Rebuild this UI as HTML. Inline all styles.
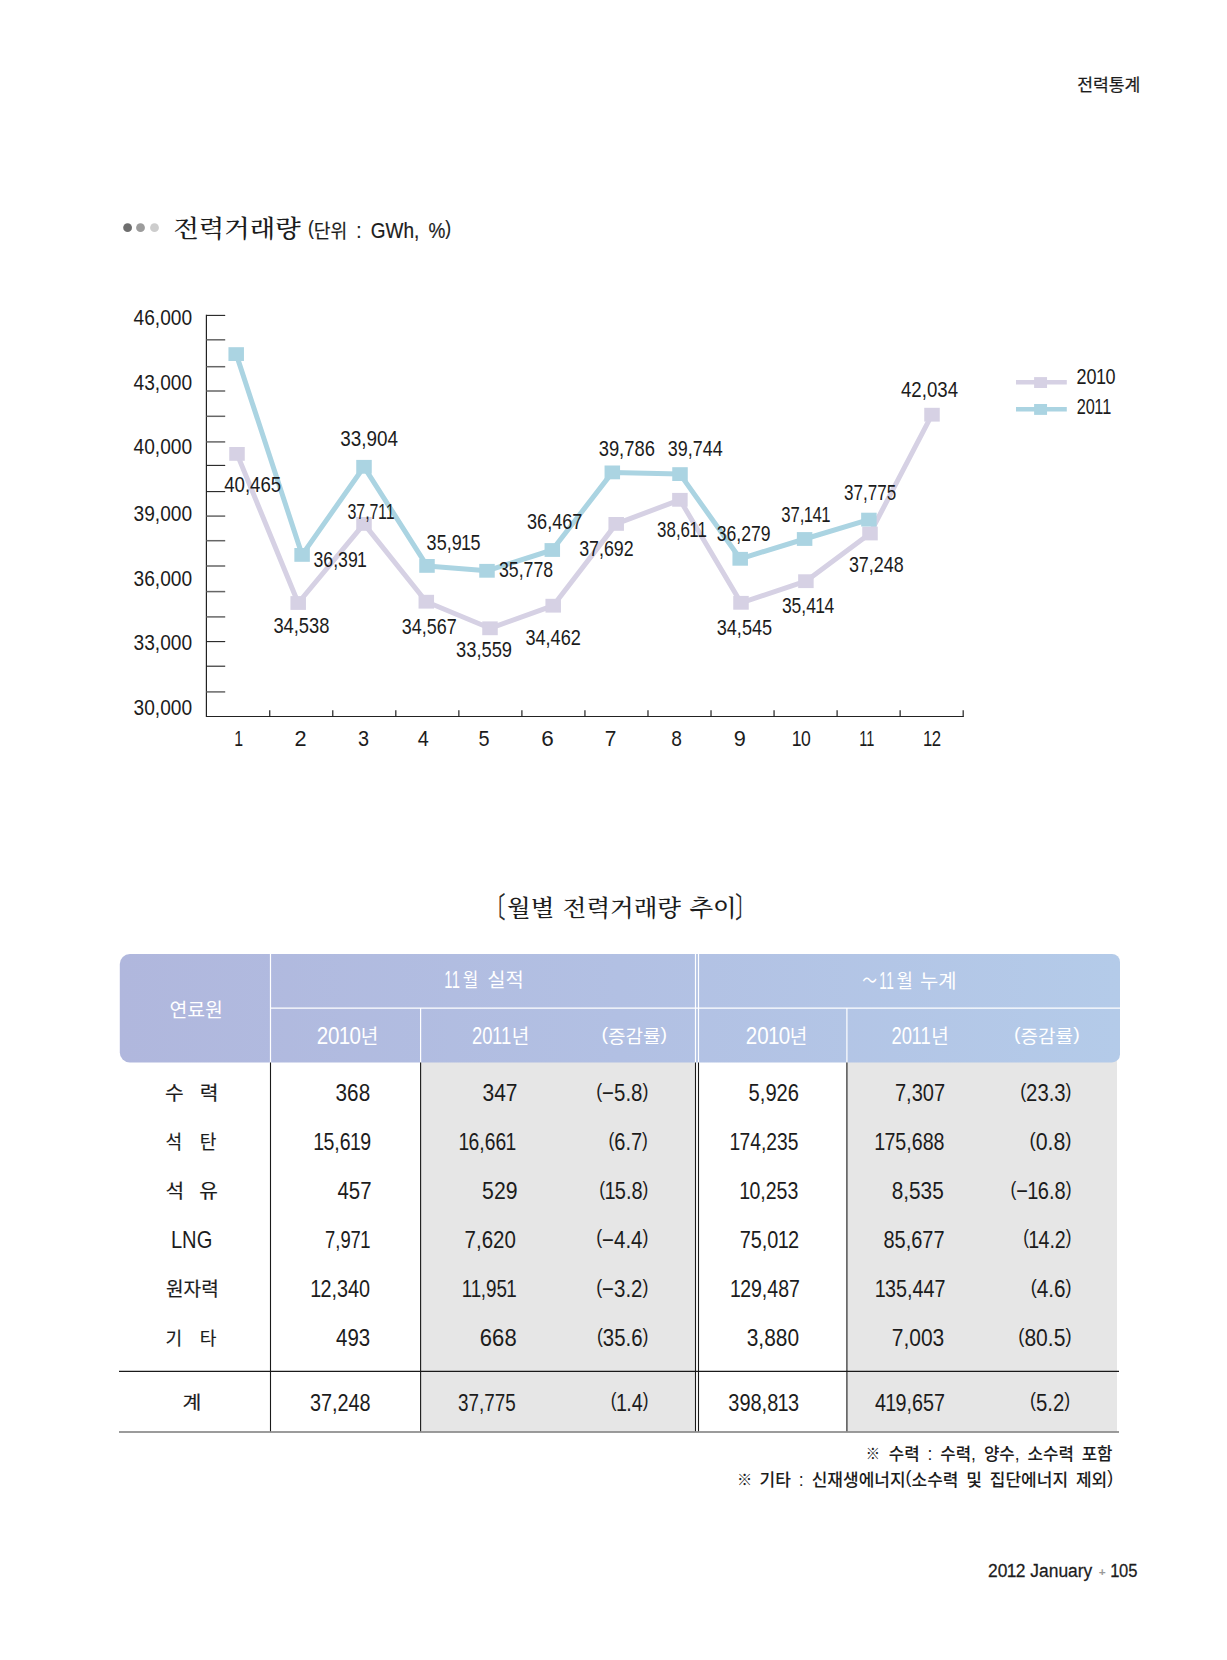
<!DOCTYPE html>
<html lang="ko"><head><meta charset="utf-8"><title>전력통계 - 전력거래량</title>
<style>
html,body{margin:0;padding:0;background:#fff}
body{width:1227px;height:1660px;overflow:hidden}
svg{display:block}
text{white-space:pre;font-kerning:none}
</style></head><body>
<svg width="1227" height="1660" viewBox="0 0 1227 1660">
<rect width="1227" height="1660" fill="#fff"/>
<circle cx="127.6" cy="227.7" r="4.4" fill="#6e6e6e"/>
<circle cx="140.5" cy="227.7" r="4.4" fill="#9c9c9c"/>
<circle cx="154.5" cy="227.7" r="4.4" fill="#cdcdcd"/>
<path d="M206.4 314.80V716.5H963.8" fill="none" stroke="#222" stroke-width="1.2"/>
<path d="M206.4 315.40H225.2" stroke="#222" stroke-width="1.1"/>
<path d="M206.4 339.80H225.2" stroke="#666" stroke-width="1.5"/>
<path d="M206.4 366.70H225.2" stroke="#666" stroke-width="1.5"/>
<path d="M206.4 391.00H225.2" stroke="#666" stroke-width="1.5"/>
<path d="M206.4 416.30H225.2" stroke="#666" stroke-width="1.5"/>
<path d="M206.4 441.90H225.2" stroke="#666" stroke-width="1.5"/>
<path d="M206.4 465.40H225.2" stroke="#222" stroke-width="1.1"/>
<path d="M206.4 491.60H225.2" stroke="#222" stroke-width="1.1"/>
<path d="M206.4 516.10H225.2" stroke="#666" stroke-width="1.5"/>
<path d="M206.4 540.70H225.2" stroke="#666" stroke-width="1.5"/>
<path d="M206.4 566.00H225.2" stroke="#666" stroke-width="1.5"/>
<path d="M206.4 591.60H225.2" stroke="#666" stroke-width="1.5"/>
<path d="M206.4 616.90H225.2" stroke="#666" stroke-width="1.5"/>
<path d="M206.4 641.60H225.2" stroke="#222" stroke-width="1.1"/>
<path d="M206.4 666.20H225.2" stroke="#222" stroke-width="1.1"/>
<path d="M206.4 691.90H225.2" stroke="#666" stroke-width="1.5"/>
<path d="M269.74 716.5V710.3" stroke="#222" stroke-width="1.2"/>
<path d="M332.78 716.5V710.3" stroke="#222" stroke-width="1.2"/>
<path d="M395.82 716.5V710.3" stroke="#222" stroke-width="1.2"/>
<path d="M458.86 716.5V710.3" stroke="#222" stroke-width="1.2"/>
<path d="M521.90 716.5V710.3" stroke="#222" stroke-width="1.2"/>
<path d="M584.94 716.5V710.3" stroke="#222" stroke-width="1.2"/>
<path d="M647.98 716.5V710.3" stroke="#222" stroke-width="1.2"/>
<path d="M711.02 716.5V710.3" stroke="#222" stroke-width="1.2"/>
<path d="M774.06 716.5V710.3" stroke="#222" stroke-width="1.2"/>
<path d="M837.10 716.5V710.3" stroke="#222" stroke-width="1.2"/>
<path d="M900.14 716.5V710.3" stroke="#222" stroke-width="1.2"/>
<path d="M963.18 716.5V710.3" stroke="#222" stroke-width="1.2"/>
<path d="M237 453.9 L298.2 603 L364 523.9 L426.3 601.7 L490 628.3 L553.2 605.7 L616.2 523.9 L679.9 499.8 L741 602.8 L805.9 581.2 L870 533.5 L932 414.7" fill="none" stroke="#d6d1e4" stroke-width="5.0" stroke-linejoin="round"/>
<rect x="229.25" y="447.00" width="15.5" height="13.8" fill="#d6d1e4"/>
<rect x="290.45" y="596.10" width="15.5" height="13.8" fill="#d6d1e4"/>
<rect x="356.25" y="517.00" width="15.5" height="13.8" fill="#d6d1e4"/>
<rect x="418.55" y="594.80" width="15.5" height="13.8" fill="#d6d1e4"/>
<rect x="482.25" y="621.40" width="15.5" height="13.8" fill="#d6d1e4"/>
<rect x="545.45" y="598.80" width="15.5" height="13.8" fill="#d6d1e4"/>
<rect x="608.45" y="517.00" width="15.5" height="13.8" fill="#d6d1e4"/>
<rect x="672.15" y="492.90" width="15.5" height="13.8" fill="#d6d1e4"/>
<rect x="733.25" y="595.90" width="15.5" height="13.8" fill="#d6d1e4"/>
<rect x="798.15" y="574.30" width="15.5" height="13.8" fill="#d6d1e4"/>
<rect x="862.25" y="526.60" width="15.5" height="13.8" fill="#d6d1e4"/>
<rect x="924.25" y="407.80" width="15.5" height="13.8" fill="#d6d1e4"/>
<path d="M236.2 354.1 L302.1 554.9 L364 466.8 L427 565.9 L487 570.8 L552.3 550.0 L612.3 472.4 L680 474.1 L740.2 558.8 L804.6 539 L868.9 519.6" fill="none" stroke="#abd4e2" stroke-width="5.0" stroke-linejoin="round"/>
<rect x="228.45" y="347.20" width="15.5" height="13.8" fill="#abd4e2"/>
<rect x="294.35" y="548.00" width="15.5" height="13.8" fill="#abd4e2"/>
<rect x="356.25" y="459.90" width="15.5" height="13.8" fill="#abd4e2"/>
<rect x="419.25" y="559.00" width="15.5" height="13.8" fill="#abd4e2"/>
<rect x="479.25" y="563.90" width="15.5" height="13.8" fill="#abd4e2"/>
<rect x="544.55" y="543.10" width="15.5" height="13.8" fill="#abd4e2"/>
<rect x="604.55" y="465.50" width="15.5" height="13.8" fill="#abd4e2"/>
<rect x="672.25" y="467.20" width="15.5" height="13.8" fill="#abd4e2"/>
<rect x="732.45" y="551.90" width="15.5" height="13.8" fill="#abd4e2"/>
<rect x="796.85" y="532.10" width="15.5" height="13.8" fill="#abd4e2"/>
<rect x="861.15" y="512.70" width="15.5" height="13.8" fill="#abd4e2"/>
<path d="M1016 382.3H1066.8" stroke="#d6d1e4" stroke-width="4.5"/>
<rect x="1034.1" y="377.10" width="12.95" height="10.9" fill="#d6d1e4"/>
<path d="M1016 409.2H1066.8" stroke="#abd4e2" stroke-width="4.5"/>
<rect x="1034.1" y="404.00" width="12.95" height="10.9" fill="#abd4e2"/>
<defs><linearGradient id="hg" x1="0" x2="1" y1="0" y2="0"><stop offset="0" stop-color="#b0b7dd"/><stop offset="0.5" stop-color="#b2c0e3"/><stop offset="1" stop-color="#b4cbe9"/></linearGradient></defs>
<rect x="420.6" y="1060" width="274.8" height="371.5" fill="#e6e6e6"/>
<rect x="847" y="1060" width="270" height="371.5" fill="#e6e6e6"/>
<path d="M129.8 954H1112A8 8 0 0 1 1120 962V1054.4A8 8 0 0 1 1112 1062.4H129.8A10 10 0 0 1 119.8 1052.4V964A10 10 0 0 1 129.8 954Z" fill="url(#hg)"/>
<path d="M270.5 954V1062.4M420.6 1008.1V1062.4M695.5 954V1062.4M698.5 954V1062.4M846.9 1008.1V1062.4M270.5 1008.1H1120" stroke="#fff" stroke-width="1.2" fill="none"/>
<path d="M270.5 1062.4V1431.6M420.6 1062.4V1431.6M695.5 1062.4V1431.6M698.5 1062.4V1431.6M846.9 1062.4V1431.6" stroke="#1a1a1a" stroke-width="1.1" fill="none"/>
<path d="M119 1371.4H1119" stroke="#1a1a1a" stroke-width="1.1"/>
<path d="M119 1432H1119" stroke="#7a7a7a" stroke-width="1.6"/>
<text transform="translate(1077.20 90.84) scale(1.0112 0.9824)" font-size="17" font-family='"Liberation Sans", "Noto Sans CJK KR", "NanumGothic", sans-serif' fill="#1c1c1c" stroke="#1c1c1c" stroke-width="0.25">전력통계</text>
<text transform="translate(173.39 237.09) scale(1.0148 0.9037)" font-size="26" font-family='"Liberation Serif", "Noto Serif CJK KR", "Noto Serif CJK SC", serif' font-weight="500" fill="#1c1c1c">전력거래량</text>
<text transform="translate(308.03 234.64) scale(0.8732 1.0000)" font-size="20.1" font-family='"Liberation Sans", "Noto Sans CJK KR", "NanumGothic", sans-serif' fill="#1c1c1c" stroke="#1c1c1c" stroke-width="0.2">(</text>
<text transform="translate(313.87 237.80) scale(0.9390 1.0000)" font-size="19.4" font-family='"Liberation Sans", "Noto Sans CJK KR", "NanumGothic", sans-serif' fill="#1c1c1c" stroke="#1c1c1c" stroke-width="0.2">단위 </text>
<text transform="translate(352.43 237.80) scale(0.8732 1.0000)" font-size="21.73" font-family='"Liberation Sans", "Noto Sans CJK KR", "NanumGothic", sans-serif' fill="#1c1c1c" stroke="#1c1c1c" stroke-width="0.2"><tspan dx="4.5 0 4.5 0 0 0 0 4.5">: GWh, %</tspan></text>
<text transform="translate(445.36 234.64) scale(0.8732 1.0000)" font-size="20.1" font-family='"Liberation Sans", "Noto Sans CJK KR", "NanumGothic", sans-serif' fill="#1c1c1c" stroke="#1c1c1c" stroke-width="0.2">)</text>
<text transform="translate(133.55 324.50) scale(0.8738 1.0000)" font-size="21.9" font-family='"Liberation Sans", "Noto Sans CJK KR", "NanumGothic", sans-serif' fill="#1c1c1c">46,000</text>
<text transform="translate(133.55 389.70) scale(0.8738 1.0000)" font-size="21.9" font-family='"Liberation Sans", "Noto Sans CJK KR", "NanumGothic", sans-serif' fill="#1c1c1c">43,000</text>
<text transform="translate(133.55 454.30) scale(0.8738 1.0000)" font-size="21.9" font-family='"Liberation Sans", "Noto Sans CJK KR", "NanumGothic", sans-serif' fill="#1c1c1c">40,000</text>
<text transform="translate(133.55 521.00) scale(0.8738 1.0000)" font-size="21.9" font-family='"Liberation Sans", "Noto Sans CJK KR", "NanumGothic", sans-serif' fill="#1c1c1c">39,000</text>
<text transform="translate(133.55 585.50) scale(0.8738 1.0000)" font-size="21.9" font-family='"Liberation Sans", "Noto Sans CJK KR", "NanumGothic", sans-serif' fill="#1c1c1c">36,000</text>
<text transform="translate(133.55 650.10) scale(0.8738 1.0000)" font-size="21.9" font-family='"Liberation Sans", "Noto Sans CJK KR", "NanumGothic", sans-serif' fill="#1c1c1c">33,000</text>
<text transform="translate(133.55 715.30) scale(0.8738 1.0000)" font-size="21.9" font-family='"Liberation Sans", "Noto Sans CJK KR", "NanumGothic", sans-serif' fill="#1c1c1c">30,000</text>
<text transform="translate(234.73 746.00) scale(0.7273 1.0000)" font-size="21.9" font-family='"Liberation Sans", "Noto Sans CJK KR", "NanumGothic", sans-serif' fill="#1c1c1c"><tspan dx="-0.77">1</tspan></text>
<text transform="translate(294.41 746.00) scale(0.9909 1.0000)" font-size="21.9" font-family='"Liberation Sans", "Noto Sans CJK KR", "NanumGothic", sans-serif' fill="#1c1c1c">2</text>
<text transform="translate(358.00 746.00) scale(0.9083 1.0000)" font-size="21.9" font-family='"Liberation Sans", "Noto Sans CJK KR", "NanumGothic", sans-serif' fill="#1c1c1c">3</text>
<text transform="translate(417.70 746.00) scale(0.9083 1.0000)" font-size="21.9" font-family='"Liberation Sans", "Noto Sans CJK KR", "NanumGothic", sans-serif' fill="#1c1c1c">4</text>
<text transform="translate(478.60 746.00) scale(0.9083 1.0000)" font-size="21.9" font-family='"Liberation Sans", "Noto Sans CJK KR", "NanumGothic", sans-serif' fill="#1c1c1c">5</text>
<text transform="translate(541.17 746.00) scale(1.0273 1.0000)" font-size="21.9" font-family='"Liberation Sans", "Noto Sans CJK KR", "NanumGothic", sans-serif' fill="#1c1c1c">6</text>
<text transform="translate(604.65 746.00) scale(0.9545 1.0000)" font-size="21.9" font-family='"Liberation Sans", "Noto Sans CJK KR", "NanumGothic", sans-serif' fill="#1c1c1c">7</text>
<text transform="translate(671.30 746.00) scale(0.8750 1.0000)" font-size="21.9" font-family='"Liberation Sans", "Noto Sans CJK KR", "NanumGothic", sans-serif' fill="#1c1c1c">8</text>
<text transform="translate(733.71 746.00) scale(0.9909 1.0000)" font-size="21.9" font-family='"Liberation Sans", "Noto Sans CJK KR", "NanumGothic", sans-serif' fill="#1c1c1c">9</text>
<text transform="translate(792.41 746.00) scale(0.8033 1.0000)" font-size="21.9" font-family='"Liberation Sans", "Noto Sans CJK KR", "NanumGothic", sans-serif' fill="#1c1c1c"><tspan dx="-0.77 -0.77">10</tspan></text>
<text transform="translate(859.74 746.00) scale(0.6654 1.0000)" font-size="21.9" font-family='"Liberation Sans", "Noto Sans CJK KR", "NanumGothic", sans-serif' fill="#1c1c1c"><tspan dx="-0.77 -1.53">11</tspan></text>
<text transform="translate(923.52 746.00) scale(0.7631 1.0000)" font-size="21.9" font-family='"Liberation Sans", "Noto Sans CJK KR", "NanumGothic", sans-serif' fill="#1c1c1c"><tspan dx="-0.77 -0.77">12</tspan></text>
<text transform="translate(224.20 492.30) scale(0.8521 1.0000)" font-size="21.9" font-family='"Liberation Sans", "Noto Sans CJK KR", "NanumGothic", sans-serif' fill="#1c1c1c">40,465</text>
<text transform="translate(340.20 445.70) scale(0.8625 1.0000)" font-size="21.9" font-family='"Liberation Sans", "Noto Sans CJK KR", "NanumGothic", sans-serif' fill="#1c1c1c">33,904</text>
<text transform="translate(347.40 518.50) scale(0.7305 1.0000)" font-size="21.9" font-family='"Liberation Sans", "Noto Sans CJK KR", "NanumGothic", sans-serif' fill="#1c1c1c"><tspan dx="0 0 0 0 -0.77 -1.53">37,711</tspan></text>
<text transform="translate(426.60 550.20) scale(0.8230 1.0000)" font-size="21.9" font-family='"Liberation Sans", "Noto Sans CJK KR", "NanumGothic", sans-serif' fill="#1c1c1c"><tspan dx="0 0 0 0 -0.77 -0.77">35,915</tspan></text>
<text transform="translate(313.50 566.70) scale(0.8074 1.0000)" font-size="21.9" font-family='"Liberation Sans", "Noto Sans CJK KR", "NanumGothic", sans-serif' fill="#1c1c1c"><tspan dx="0 0 0 0 0 -0.77">36,391</tspan></text>
<text transform="translate(273.40 633.20) scale(0.8371 1.0000)" font-size="21.9" font-family='"Liberation Sans", "Noto Sans CJK KR", "NanumGothic", sans-serif' fill="#1c1c1c">34,538</text>
<text transform="translate(401.80 634.00) scale(0.8191 1.0000)" font-size="21.9" font-family='"Liberation Sans", "Noto Sans CJK KR", "NanumGothic", sans-serif' fill="#1c1c1c">34,567</text>
<text transform="translate(456.00 656.80) scale(0.8371 1.0000)" font-size="21.9" font-family='"Liberation Sans", "Noto Sans CJK KR", "NanumGothic", sans-serif' fill="#1c1c1c">33,559</text>
<text transform="translate(598.70 456.10) scale(0.8386 1.0000)" font-size="21.9" font-family='"Liberation Sans", "Noto Sans CJK KR", "NanumGothic", sans-serif' fill="#1c1c1c">39,786</text>
<text transform="translate(667.80 456.10) scale(0.8191 1.0000)" font-size="21.9" font-family='"Liberation Sans", "Noto Sans CJK KR", "NanumGothic", sans-serif' fill="#1c1c1c">39,744</text>
<text transform="translate(527.00 529.40) scale(0.8281 1.0000)" font-size="21.9" font-family='"Liberation Sans", "Noto Sans CJK KR", "NanumGothic", sans-serif' fill="#1c1c1c">36,467</text>
<text transform="translate(579.20 556.20) scale(0.8131 1.0000)" font-size="21.9" font-family='"Liberation Sans", "Noto Sans CJK KR", "NanumGothic", sans-serif' fill="#1c1c1c">37,692</text>
<text transform="translate(499.00 576.70) scale(0.8086 1.0000)" font-size="21.9" font-family='"Liberation Sans", "Noto Sans CJK KR", "NanumGothic", sans-serif' fill="#1c1c1c">35,778</text>
<text transform="translate(657.10 536.90) scale(0.7708 1.0000)" font-size="21.9" font-family='"Liberation Sans", "Noto Sans CJK KR", "NanumGothic", sans-serif' fill="#1c1c1c"><tspan dx="0 0 0 0 -0.77 -1.53">38,611</tspan></text>
<text transform="translate(716.70 540.80) scale(0.8041 1.0000)" font-size="21.9" font-family='"Liberation Sans", "Noto Sans CJK KR", "NanumGothic", sans-serif' fill="#1c1c1c">36,279</text>
<text transform="translate(781.20 522.10) scale(0.7630 1.0000)" font-size="21.9" font-family='"Liberation Sans", "Noto Sans CJK KR", "NanumGothic", sans-serif' fill="#1c1c1c"><tspan dx="0 0 0 -0.77 -0.77 -0.77">37,141</tspan></text>
<text transform="translate(525.40 644.50) scale(0.8281 1.0000)" font-size="21.9" font-family='"Liberation Sans", "Noto Sans CJK KR", "NanumGothic", sans-serif' fill="#1c1c1c">34,462</text>
<text transform="translate(716.70 635.40) scale(0.8281 1.0000)" font-size="21.9" font-family='"Liberation Sans", "Noto Sans CJK KR", "NanumGothic", sans-serif' fill="#1c1c1c">34,545</text>
<text transform="translate(781.90 612.60) scale(0.7985 1.0000)" font-size="21.9" font-family='"Liberation Sans", "Noto Sans CJK KR", "NanumGothic", sans-serif' fill="#1c1c1c"><tspan dx="0 0 0 0 -0.77 -0.77">35,414</tspan></text>
<text transform="translate(901.00 397.00) scale(0.8521 1.0000)" font-size="21.9" font-family='"Liberation Sans", "Noto Sans CJK KR", "NanumGothic", sans-serif' fill="#1c1c1c">42,034</text>
<text transform="translate(844.00 500.40) scale(0.7787 1.0000)" font-size="21.9" font-family='"Liberation Sans", "Noto Sans CJK KR", "NanumGothic", sans-serif' fill="#1c1c1c">37,775</text>
<text transform="translate(848.90 571.50) scale(0.8176 1.0000)" font-size="21.9" font-family='"Liberation Sans", "Noto Sans CJK KR", "NanumGothic", sans-serif' fill="#1c1c1c">37,248</text>
<text transform="translate(1076.58 384.00) scale(0.8241 1.0000)" font-size="21.9" font-family='"Liberation Sans", "Noto Sans CJK KR", "NanumGothic", sans-serif' fill="#1c1c1c"><tspan dx="0 0 -0.77 -0.77">2010</tspan></text>
<text transform="translate(1076.65 414.00) scale(0.7452 1.0000)" font-size="21.9" font-family='"Liberation Sans", "Noto Sans CJK KR", "NanumGothic", sans-serif' fill="#1c1c1c"><tspan dx="0 0 -0.77 -1.53">2011</tspan></text>
<text transform="translate(486.63 917.69) scale(0.7571 1.1696)" font-size="24" font-family='"Liberation Serif", "Noto Serif CJK KR", "Noto Serif CJK SC", serif' font-weight="700" fill="#1c1c1c" stroke="#1c1c1c" stroke-width="0.6">〔</text>
<text transform="translate(507.00 916.27) scale(1.0204 0.9320)" font-size="24" font-family='"Liberation Serif", "Noto Serif CJK KR", "Noto Serif CJK SC", serif' font-weight="500" fill="#1c1c1c"><tspan dx="0 0 0 2.3 0 0 0 0 0 2.3">월별 전력거래량 추이</tspan></text>
<text transform="translate(735.80 917.69) scale(0.7429 1.1696)" font-size="24" font-family='"Liberation Serif", "Noto Serif CJK KR", "Noto Serif CJK SC", serif' font-weight="700" fill="#1c1c1c" stroke="#1c1c1c" stroke-width="0.6">〕</text>
<text transform="translate(169.43 1017.12) scale(0.9697 0.9789)" font-size="20" font-family='"Liberation Sans", "Noto Sans CJK KR", "NanumGothic", sans-serif' fill="#ffffff">연료원</text>
<text transform="translate(444.50 987.60) scale(0.5993 1.0000)" font-size="24.6" font-family='"Liberation Sans", "Noto Sans CJK KR", "NanumGothic", sans-serif' fill="#ffffff"><tspan dx="-0.49 -0.98">11</tspan></text>
<text transform="translate(462.70 987.18) scale(0.8471 0.9600)" font-size="20" font-family='"Liberation Sans", "Noto Sans CJK KR", "NanumGothic", sans-serif' fill="#ffffff">월</text>
<text transform="translate(487.31 987.18) scale(0.9940 0.9600)" font-size="20" font-family='"Liberation Sans", "Noto Sans CJK KR", "NanumGothic", sans-serif' fill="#ffffff">실적</text>
<text transform="translate(862.20 987.60) scale(0.7350 1.0000)" font-size="20" font-family='"Liberation Sans", "Noto Sans CJK KR", "NanumGothic", sans-serif' fill="#ffffff">～</text>
<text transform="translate(879.52 988.50) scale(0.5548 1.0000)" font-size="24.6" font-family='"Liberation Sans", "Noto Sans CJK KR", "NanumGothic", sans-serif' fill="#ffffff"><tspan dx="-0.49 -0.98">11</tspan></text>
<text transform="translate(896.50 987.90) scale(0.8882 0.9500)" font-size="20" font-family='"Liberation Sans", "Noto Sans CJK KR", "NanumGothic", sans-serif' fill="#ffffff">월</text>
<text transform="translate(919.91 987.90) scale(0.9942 0.9500)" font-size="20" font-family='"Liberation Sans", "Noto Sans CJK KR", "NanumGothic", sans-serif' fill="#ffffff">누계</text>
<text transform="translate(316.66 1044.20) scale(0.8361 1.0000)" font-size="24.6" font-family='"Liberation Sans", "Noto Sans CJK KR", "NanumGothic", sans-serif' fill="#ffffff"><tspan dx="0 0 -0.86 -0.86">2010</tspan></text>
<text transform="translate(360.69 1044.09) scale(0.9533 1.0053)" font-size="20" font-family='"Liberation Sans", "Noto Sans CJK KR", "NanumGothic", sans-serif' fill="#ffffff">년</text>
<text transform="translate(745.76 1044.20) scale(0.8361 1.0000)" font-size="24.6" font-family='"Liberation Sans", "Noto Sans CJK KR", "NanumGothic", sans-serif' fill="#ffffff"><tspan dx="0 0 -0.86 -0.86">2010</tspan></text>
<text transform="translate(789.79 1044.09) scale(0.9533 1.0053)" font-size="20" font-family='"Liberation Sans", "Noto Sans CJK KR", "NanumGothic", sans-serif' fill="#ffffff">년</text>
<text transform="translate(472.05 1044.20) scale(0.7492 1.0000)" font-size="24.6" font-family='"Liberation Sans", "Noto Sans CJK KR", "NanumGothic", sans-serif' fill="#ffffff"><tspan dx="0 0 -0.86 -1.72">2011</tspan></text>
<text transform="translate(511.69 1044.09) scale(0.9533 1.0053)" font-size="20" font-family='"Liberation Sans", "Noto Sans CJK KR", "NanumGothic", sans-serif' fill="#ffffff">년</text>
<text transform="translate(891.55 1044.20) scale(0.7492 1.0000)" font-size="24.6" font-family='"Liberation Sans", "Noto Sans CJK KR", "NanumGothic", sans-serif' fill="#ffffff"><tspan dx="0 0 -0.86 -1.72">2011</tspan></text>
<text transform="translate(931.19 1044.09) scale(0.9533 1.0053)" font-size="20" font-family='"Liberation Sans", "Noto Sans CJK KR", "NanumGothic", sans-serif' fill="#ffffff">년</text>
<text transform="translate(601.45 1043.10) scale(0.9529 0.9000)" font-size="20" font-family='"Liberation Sans", "Noto Sans CJK KR", "NanumGothic", sans-serif' fill="#ffffff"><tspan font-size="20.6" dy="-3.23">(</tspan><tspan dy="3.23">증감률</tspan><tspan font-size="20.6" dy="-3.23">)</tspan></text>
<text transform="translate(1014.05 1043.10) scale(0.9529 0.9000)" font-size="20" font-family='"Liberation Sans", "Noto Sans CJK KR", "NanumGothic", sans-serif' fill="#ffffff"><tspan font-size="20.6" dy="-3.23">(</tspan><tspan dy="3.23">증감률</tspan><tspan font-size="20.6" dy="-3.23">)</tspan></text>
<text transform="translate(335.60 1100.90) scale(0.8815 1.0000)" font-size="23.5" font-family='"Liberation Sans", "Noto Sans CJK KR", "NanumGothic", sans-serif' fill="#1c1c1c">368</text>
<text transform="translate(313.95 1149.80) scale(0.8316 1.0000)" font-size="23.5" font-family='"Liberation Sans", "Noto Sans CJK KR", "NanumGothic", sans-serif' fill="#1c1c1c"><tspan dx="-0.82 -0.82 0 0 -0.82 -0.82">15,619</tspan></text>
<text transform="translate(337.50 1198.70) scale(0.8679 1.0000)" font-size="23.5" font-family='"Liberation Sans", "Noto Sans CJK KR", "NanumGothic", sans-serif' fill="#1c1c1c">457</text>
<text transform="translate(325.02 1247.60) scale(0.7833 1.0000)" font-size="23.5" font-family='"Liberation Sans", "Noto Sans CJK KR", "NanumGothic", sans-serif' fill="#1c1c1c"><tspan dx="0 0 0 0 -0.82">7,971</tspan></text>
<text transform="translate(310.95 1296.90) scale(0.8430 1.0000)" font-size="23.5" font-family='"Liberation Sans", "Noto Sans CJK KR", "NanumGothic", sans-serif' fill="#1c1c1c"><tspan dx="-0.82 -0.82">12,340</tspan></text>
<text transform="translate(336.10 1346.10) scale(0.8687 1.0000)" font-size="23.5" font-family='"Liberation Sans", "Noto Sans CJK KR", "NanumGothic", sans-serif' fill="#1c1c1c">493</text>
<text transform="translate(309.90 1410.50) scale(0.8453 1.0000)" font-size="23.5" font-family='"Liberation Sans", "Noto Sans CJK KR", "NanumGothic", sans-serif' fill="#1c1c1c">37,248</text>
<text transform="translate(482.50 1100.90) scale(0.8941 1.0000)" font-size="23.5" font-family='"Liberation Sans", "Noto Sans CJK KR", "NanumGothic", sans-serif' fill="#1c1c1c">347</text>
<text transform="translate(459.15 1149.80) scale(0.8216 1.0000)" font-size="23.5" font-family='"Liberation Sans", "Noto Sans CJK KR", "NanumGothic", sans-serif' fill="#1c1c1c"><tspan dx="-0.82 -0.82 0 0 0 -0.82">16,661</tspan></text>
<text transform="translate(482.10 1198.70) scale(0.9046 1.0000)" font-size="23.5" font-family='"Liberation Sans", "Noto Sans CJK KR", "NanumGothic", sans-serif' fill="#1c1c1c">529</text>
<text transform="translate(464.53 1247.60) scale(0.8729 1.0000)" font-size="23.5" font-family='"Liberation Sans", "Noto Sans CJK KR", "NanumGothic", sans-serif' fill="#1c1c1c">7,620</text>
<text transform="translate(462.36 1296.90) scale(0.8013 1.0000)" font-size="23.5" font-family='"Liberation Sans", "Noto Sans CJK KR", "NanumGothic", sans-serif' fill="#1c1c1c"><tspan dx="-0.82 -1.65 -0.82 0 0 -0.82">11,951</tspan></text>
<text transform="translate(479.86 1346.10) scale(0.9387 1.0000)" font-size="23.5" font-family='"Liberation Sans", "Noto Sans CJK KR", "NanumGothic", sans-serif' fill="#1c1c1c">668</text>
<text transform="translate(458.10 1410.50) scale(0.8035 1.0000)" font-size="23.5" font-family='"Liberation Sans", "Noto Sans CJK KR", "NanumGothic", sans-serif' fill="#1c1c1c">37,775</text>
<text transform="translate(596.13 1100.90) scale(0.8712 1.0000)" font-size="23.5" font-family='"Liberation Sans", "Noto Sans CJK KR", "NanumGothic", sans-serif' fill="#1c1c1c"><tspan font-size="20.45" dy="-3.21">(</tspan><tspan dy="3.21">−5.8</tspan><tspan font-size="20.45" dy="-3.21">)</tspan></text>
<text transform="translate(608.45 1149.80) scale(0.8522 1.0000)" font-size="23.5" font-family='"Liberation Sans", "Noto Sans CJK KR", "NanumGothic", sans-serif' fill="#1c1c1c"><tspan font-size="20.45" dy="-3.21">(</tspan><tspan dy="3.21">6.7</tspan><tspan font-size="20.45" dy="-3.21">)</tspan></text>
<text transform="translate(599.35 1198.70) scale(0.8498 1.0000)" font-size="23.5" font-family='"Liberation Sans", "Noto Sans CJK KR", "NanumGothic", sans-serif' fill="#1c1c1c"><tspan font-size="20.45" dy="-3.21">(</tspan><tspan dx="-0.82 -0.82" dy="3.21">15.8</tspan><tspan font-size="20.45" dy="-3.21">)</tspan></text>
<text transform="translate(596.13 1247.60) scale(0.8712 1.0000)" font-size="23.5" font-family='"Liberation Sans", "Noto Sans CJK KR", "NanumGothic", sans-serif' fill="#1c1c1c"><tspan font-size="20.45" dy="-3.21">(</tspan><tspan dy="3.21">−4.4</tspan><tspan font-size="20.45" dy="-3.21">)</tspan></text>
<text transform="translate(596.13 1296.90) scale(0.8712 1.0000)" font-size="23.5" font-family='"Liberation Sans", "Noto Sans CJK KR", "NanumGothic", sans-serif' fill="#1c1c1c"><tspan font-size="20.45" dy="-3.21">(</tspan><tspan dy="3.21">−3.2</tspan><tspan font-size="20.45" dy="-3.21">)</tspan></text>
<text transform="translate(596.93 1346.10) scale(0.8672 1.0000)" font-size="23.5" font-family='"Liberation Sans", "Noto Sans CJK KR", "NanumGothic", sans-serif' fill="#1c1c1c"><tspan font-size="20.45" dy="-3.21">(</tspan><tspan dy="3.21">35.6</tspan><tspan font-size="20.45" dy="-3.21">)</tspan></text>
<text transform="translate(610.86 1410.50) scale(0.8406 1.0000)" font-size="23.5" font-family='"Liberation Sans", "Noto Sans CJK KR", "NanumGothic", sans-serif' fill="#1c1c1c"><tspan font-size="20.45" dy="-3.21">(</tspan><tspan dx="-0.82 -0.82" dy="3.21">1.4</tspan><tspan font-size="20.45" dy="-3.21">)</tspan></text>
<text transform="translate(748.60 1100.90) scale(0.8581 1.0000)" font-size="23.5" font-family='"Liberation Sans", "Noto Sans CJK KR", "NanumGothic", sans-serif' fill="#1c1c1c">5,926</text>
<text transform="translate(730.15 1149.80) scale(0.8187 1.0000)" font-size="23.5" font-family='"Liberation Sans", "Noto Sans CJK KR", "NanumGothic", sans-serif' fill="#1c1c1c"><tspan dx="-0.82 -0.82">174,235</tspan></text>
<text transform="translate(739.95 1198.70) scale(0.8316 1.0000)" font-size="23.5" font-family='"Liberation Sans", "Noto Sans CJK KR", "NanumGothic", sans-serif' fill="#1c1c1c"><tspan dx="-0.82 -0.82">10,253</tspan></text>
<text transform="translate(739.65 1247.60) scale(0.8480 1.0000)" font-size="23.5" font-family='"Liberation Sans", "Noto Sans CJK KR", "NanumGothic", sans-serif' fill="#1c1c1c"><tspan dx="0 0 0 0 -0.82 -0.82">75,012</tspan></text>
<text transform="translate(730.65 1296.90) scale(0.8312 1.0000)" font-size="23.5" font-family='"Liberation Sans", "Noto Sans CJK KR", "NanumGothic", sans-serif' fill="#1c1c1c"><tspan dx="-0.82 -0.82">129,487</tspan></text>
<text transform="translate(746.70 1346.10) scale(0.8904 1.0000)" font-size="23.5" font-family='"Liberation Sans", "Noto Sans CJK KR", "NanumGothic", sans-serif' fill="#1c1c1c">3,880</text>
<text transform="translate(728.30 1410.50) scale(0.8494 1.0000)" font-size="23.5" font-family='"Liberation Sans", "Noto Sans CJK KR", "NanumGothic", sans-serif' fill="#1c1c1c"><tspan dx="0 0 0 0 0 -0.82 -0.82">398,813</tspan></text>
<text transform="translate(894.95 1100.90) scale(0.8530 1.0000)" font-size="23.5" font-family='"Liberation Sans", "Noto Sans CJK KR", "NanumGothic", sans-serif' fill="#1c1c1c">7,307</text>
<text transform="translate(874.85 1149.80) scale(0.8368 1.0000)" font-size="23.5" font-family='"Liberation Sans", "Noto Sans CJK KR", "NanumGothic", sans-serif' fill="#1c1c1c"><tspan dx="-0.82 -0.82">175,688</tspan></text>
<text transform="translate(891.71 1198.70) scale(0.8850 1.0000)" font-size="23.5" font-family='"Liberation Sans", "Noto Sans CJK KR", "NanumGothic", sans-serif' fill="#1c1c1c">8,535</text>
<text transform="translate(883.45 1247.60) scale(0.8509 1.0000)" font-size="23.5" font-family='"Liberation Sans", "Noto Sans CJK KR", "NanumGothic", sans-serif' fill="#1c1c1c">85,677</text>
<text transform="translate(875.35 1296.90) scale(0.8409 1.0000)" font-size="23.5" font-family='"Liberation Sans", "Noto Sans CJK KR", "NanumGothic", sans-serif' fill="#1c1c1c"><tspan dx="-0.82 -0.82">135,447</tspan></text>
<text transform="translate(891.71 1346.10) scale(0.8937 1.0000)" font-size="23.5" font-family='"Liberation Sans", "Noto Sans CJK KR", "NanumGothic", sans-serif' fill="#1c1c1c">7,003</text>
<text transform="translate(875.00 1410.50) scale(0.8415 1.0000)" font-size="23.5" font-family='"Liberation Sans", "Noto Sans CJK KR", "NanumGothic", sans-serif' fill="#1c1c1c"><tspan dx="0 -0.82 -0.82">419,657</tspan></text>
<text transform="translate(1020.24 1100.90) scale(0.8637 1.0000)" font-size="23.5" font-family='"Liberation Sans", "Noto Sans CJK KR", "NanumGothic", sans-serif' fill="#1c1c1c"><tspan font-size="20.45" dy="-3.21">(</tspan><tspan dy="3.21">23.3</tspan><tspan font-size="20.45" dy="-3.21">)</tspan></text>
<text transform="translate(1029.49 1149.80) scale(0.9084 1.0000)" font-size="23.5" font-family='"Liberation Sans", "Noto Sans CJK KR", "NanumGothic", sans-serif' fill="#1c1c1c"><tspan font-size="20.45" dy="-3.21">(</tspan><tspan dy="3.21">0.8</tspan><tspan font-size="20.45" dy="-3.21">)</tspan></text>
<text transform="translate(1010.55 1198.70) scale(0.8532 1.0000)" font-size="23.5" font-family='"Liberation Sans", "Noto Sans CJK KR", "NanumGothic", sans-serif' fill="#1c1c1c"><tspan font-size="20.45" dy="-3.21">(</tspan><tspan dx="0 -0.82 -0.82" dy="3.21">−16.8</tspan><tspan font-size="20.45" dy="-3.21">)</tspan></text>
<text transform="translate(1023.26 1247.60) scale(0.8354 1.0000)" font-size="23.5" font-family='"Liberation Sans", "Noto Sans CJK KR", "NanumGothic", sans-serif' fill="#1c1c1c"><tspan font-size="20.45" dy="-3.21">(</tspan><tspan dx="-0.82 -0.82" dy="3.21">14.2</tspan><tspan font-size="20.45" dy="-3.21">)</tspan></text>
<text transform="translate(1030.72 1296.90) scale(0.8814 1.0000)" font-size="23.5" font-family='"Liberation Sans", "Noto Sans CJK KR", "NanumGothic", sans-serif' fill="#1c1c1c"><tspan font-size="20.45" dy="-3.21">(</tspan><tspan dy="3.21">4.6</tspan><tspan font-size="20.45" dy="-3.21">)</tspan></text>
<text transform="translate(1018.30 1346.10) scale(0.8967 1.0000)" font-size="23.5" font-family='"Liberation Sans", "Noto Sans CJK KR", "NanumGothic", sans-serif' fill="#1c1c1c"><tspan font-size="20.45" dy="-3.21">(</tspan><tspan dy="3.21">80.5</tspan><tspan font-size="20.45" dy="-3.21">)</tspan></text>
<text transform="translate(1030.03 1410.50) scale(0.8679 1.0000)" font-size="23.5" font-family='"Liberation Sans", "Noto Sans CJK KR", "NanumGothic", sans-serif' fill="#1c1c1c"><tspan font-size="20.45" dy="-3.21">(</tspan><tspan dy="3.21">5.2</tspan><tspan font-size="20.45" dy="-3.21">)</tspan></text>
<text transform="translate(165.01 1100.12) scale(0.9938 0.9400)" font-size="20.5" font-family='"Liberation Sans", "Noto Sans CJK KR", "NanumGothic", sans-serif' fill="#1c1c1c" stroke="#1c1c1c" stroke-width="0.2"><tspan dx="0 0 10.36">수 력</tspan></text>
<text transform="translate(165.62 1149.16) scale(0.8833 0.9200)" font-size="20.5" font-family='"Liberation Sans", "Noto Sans CJK KR", "NanumGothic", sans-serif' fill="#1c1c1c" stroke="#1c1c1c" stroke-width="0.2"><tspan dx="0 0 14.16">석 탄</tspan></text>
<text transform="translate(165.51 1198.06) scale(0.9882 0.9200)" font-size="20.5" font-family='"Liberation Sans", "Noto Sans CJK KR", "NanumGothic", sans-serif' fill="#1c1c1c" stroke="#1c1c1c" stroke-width="0.2"><tspan dx="0 0 9.55">석 유</tspan></text>
<text transform="translate(170.94 1247.60) scale(0.8558 1.0000)" font-size="23.5" font-family='"Liberation Sans", "Noto Sans CJK KR", "NanumGothic", sans-serif' fill="#1c1c1c">LNG</text>
<text transform="translate(166.00 1296.02) scale(0.9320 0.9400)" font-size="20.5" font-family='"Liberation Sans", "Noto Sans CJK KR", "NanumGothic", sans-serif' fill="#1c1c1c" stroke="#1c1c1c" stroke-width="0.2">원자력</text>
<text transform="translate(165.62 1345.04) scale(0.8833 0.8800)" font-size="20.5" font-family='"Liberation Sans", "Noto Sans CJK KR", "NanumGothic", sans-serif' fill="#1c1c1c" stroke="#1c1c1c" stroke-width="0.2"><tspan dx="0 0 14.16">기 타</tspan></text>
<text transform="translate(182.60 1408.98) scale(1.0000 0.9100)" font-size="20.5" font-family='"Liberation Sans", "Noto Sans CJK KR", "NanumGothic", sans-serif' fill="#1c1c1c" stroke="#1c1c1c" stroke-width="0.2">계</text>
<text transform="translate(865.82 1459.40) scale(0.8917 0.9000)" font-size="16" font-family='"Liberation Sans", "Noto Sans CJK KR", "NanumGothic", sans-serif' fill="#1c1c1c">※</text>
<text transform="translate(888.80 1460.08) scale(0.8838 0.9105)" font-size="19" font-family='"Liberation Sans", "Noto Sans CJK KR", "NanumGothic", sans-serif' font-weight="500" fill="#1c1c1c">수력 <tspan font-size="19.76" dx="3.5">: </tspan><tspan dx="3.5">수력</tspan><tspan font-size="19.76">, </tspan><tspan dx="3.5">양수</tspan><tspan font-size="19.76">, </tspan><tspan dx="3.5 0 0 0 3.5">소수력 포함</tspan></text>
<text transform="translate(736.90 1484.80) scale(0.9500 0.9000)" font-size="16" font-family='"Liberation Sans", "Noto Sans CJK KR", "NanumGothic", sans-serif' fill="#1c1c1c">※</text>
<text transform="translate(759.60 1485.95) scale(0.8955 0.9263)" font-size="19" font-family='"Liberation Sans", "Noto Sans CJK KR", "NanumGothic", sans-serif' font-weight="500" fill="#1c1c1c">기타 <tspan font-size="19.76" dx="3.5">: </tspan><tspan dx="3.5">신재생에너지</tspan><tspan font-size="19.76" dy="-3.10">(</tspan><tspan dx="0 0 0 0 3.5 0 3.5 0 0 0 0 0 3.5" dy="3.10">소수력 및 집단에너지 제외</tspan><tspan font-size="19.76" dy="-3.10">)</tspan></text>
<text transform="translate(988.00 1576.80) scale(0.9887 1.0000)" font-size="17.6" font-family='"Liberation Sans", "Noto Sans CJK KR", "NanumGothic", sans-serif' fill="#1c1c1c" stroke="#1c1c1c" stroke-width="0.25"><tspan dx="0 0 -0.62 -0.62">2012 January</tspan></text>
<text transform="translate(1098.80 1576.03) scale(0.8500 0.8250)" font-size="14" font-family='"Liberation Sans", "Noto Sans CJK KR", "NanumGothic", sans-serif' font-weight="700" fill="#9a9a9a">+</text>
<text transform="translate(1110.94 1576.80) scale(0.9408 1.0000)" font-size="17.6" font-family='"Liberation Sans", "Noto Sans CJK KR", "NanumGothic", sans-serif' fill="#1c1c1c" stroke="#1c1c1c" stroke-width="0.25"><tspan dx="-0.62 -0.62">105</tspan></text>
</svg>
</body></html>
